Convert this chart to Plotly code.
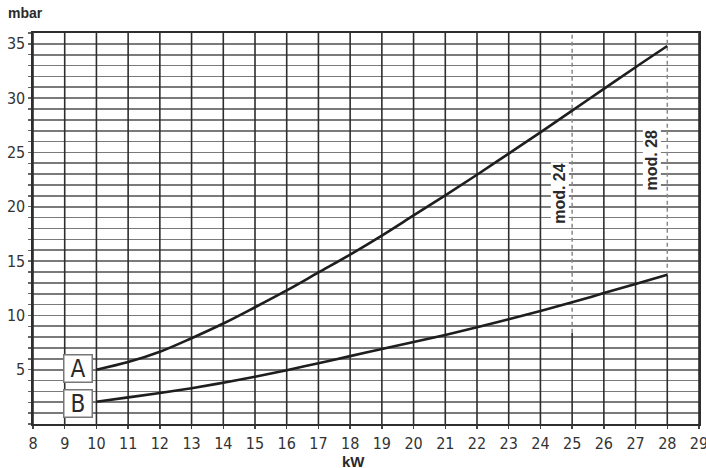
import plotly.graph_objects as go

# ---- data ----
kw = [10, 11, 12, 13, 14, 15, 16, 17, 18, 19, 20, 21, 22, 23, 24, 25, 26, 27, 28]
curve_a = [5.0, 5.7, 6.65, 7.9, 9.25, 10.75, 12.3, 13.95, 15.6, 17.35, 19.2,
           21.05, 22.95, 24.9, 26.85, 28.85, 30.85, 32.85, 34.8]
curve_b = [2.05, 2.45, 2.85, 3.3, 3.8, 4.35, 4.95, 5.6, 6.25, 6.9, 7.55,
           8.2, 8.9, 9.65, 10.4, 11.2, 12.05, 12.9, 13.75]

x_ticks = list(range(8, 30))
y_grid = list(range(0, 37))
y_labels = [str(v) if (v % 5 == 0 and v > 0) else "" for v in y_grid]

mod_kw = [25, 28]
mod_labels = ["mod. 24", "mod. 28"]
mod_bottom = [8.4, 13.75]
mod_label_pos = [(24.62, 21.2), (27.5, 24.3)]

curve_labels = ["A", "B"]
curve_label_pos = [(9.42, 5.1), (9.42, 1.9)]

X_MIN, X_MAX, Y_MIN, Y_MAX = 8, 29, 0, 36

NARROW = "DejaVu Sans Condensed, Liberation Sans Narrow, Liberation Sans, Arial, sans-serif"
SANS = "Liberation Sans, Arial, sans-serif"

fig = go.Figure()

fig.add_trace(go.Scatter(x=kw, y=curve_a, mode="lines", line=dict(color="#1e1e1e", width=2.6, shape="spline"),
                         hoverinfo="skip", showlegend=False))
fig.add_trace(go.Scatter(x=kw, y=curve_b, mode="lines", line=dict(color="#1e1e1e", width=2.6, shape="spline"),
                         hoverinfo="skip", showlegend=False))

shapes = []
# vertical grid lines (solid), partial where a model line is dashed
for xv in x_ticks:
    top = Y_MAX
    if xv in mod_kw:
        top = mod_bottom[mod_kw.index(xv)]
    shapes.append(dict(type="line", xref="x", yref="y", x0=xv, x1=xv, y0=Y_MIN, y1=top,
                       line=dict(color="#2e2e2e", width=1.6), layer="between"))
for xv, yb in zip(mod_kw, mod_bottom):
    shapes.append(dict(type="line", xref="x", yref="y", x0=xv, x1=xv, y0=yb, y1=Y_MAX,
                       line=dict(color="#8a8a8a", width=1.5, dash="4px,3px"), layer="between"))

annotations = []
for txt, (xa, ya) in zip(mod_labels, mod_label_pos):
    annotations.append(dict(x=xa, y=ya, xref="x", yref="y", text="<b>%s</b>" % txt, showarrow=False,
                            textangle=-90, font=dict(family=SANS, size=16, color="#2a2a2a"),
                            bgcolor="white", borderpad=0))
for txt, (xa, ya) in zip(curve_labels, curve_label_pos):
    annotations.append(dict(x=xa, y=ya, xref="x", yref="y", text=txt, showarrow=False,
                            font=dict(family=NARROW, size=24, color="#2a2a2a"),
                            bgcolor="white", bordercolor="#777777", borderwidth=1.5,
                            width=25, height=24, borderpad=1))
annotations.append(dict(x=-0.011, y=1.052, xref="paper", yref="paper", text="<b>mbar</b>", showarrow=False,
                        xanchor="center", yanchor="middle", font=dict(family=SANS, size=14, color="#2a2a2a")))
annotations.append(dict(x=0.481, y=-0.097, xref="paper", yref="paper", text="<b>kW</b>", showarrow=False,
                        xanchor="center", yanchor="middle", font=dict(family=SANS, size=15, color="#2a2a2a")))

fig.update_layout(
    width=706, height=468,
    margin=dict(l=33, r=7, t=33, b=44, autoexpand=False),
    paper_bgcolor="white", plot_bgcolor="white",
    shapes=shapes, annotations=annotations,
    xaxis=dict(range=[X_MIN, X_MAX], tickvals=x_ticks, ticktext=[str(v) for v in x_ticks],
               automargin=False, ticklabeloverflow="allow", ticklabelstandoff=1,
               showgrid=False, zeroline=False, showline=True, linecolor="#2e2e2e", linewidth=1.6,
               mirror=True, ticks="outside", ticklen=3, tickcolor="#444", tickwidth=1.4,
               tickfont=dict(family=NARROW, size=16, color="#333")),
    yaxis=dict(range=[Y_MIN, Y_MAX], tickvals=y_grid, ticktext=y_labels,
               automargin=False, ticklabeloverflow="allow", ticklabelstandoff=0,
               showgrid=True, gridcolor="#7a7a7a", gridwidth=1.7, zeroline=False,
               showline=True, linecolor="#2e2e2e", linewidth=1.6, mirror=True,
               ticks="outside", ticklen=3, tickcolor="#666", tickwidth=1.4,
               tickfont=dict(family=NARROW, size=16, color="#333")),
)

fig.write_html("out.html", config={"displayModeBar": False, "staticPlot": True},
               post_script="document.body.style.margin='0';document.body.style.overflow='hidden';")
